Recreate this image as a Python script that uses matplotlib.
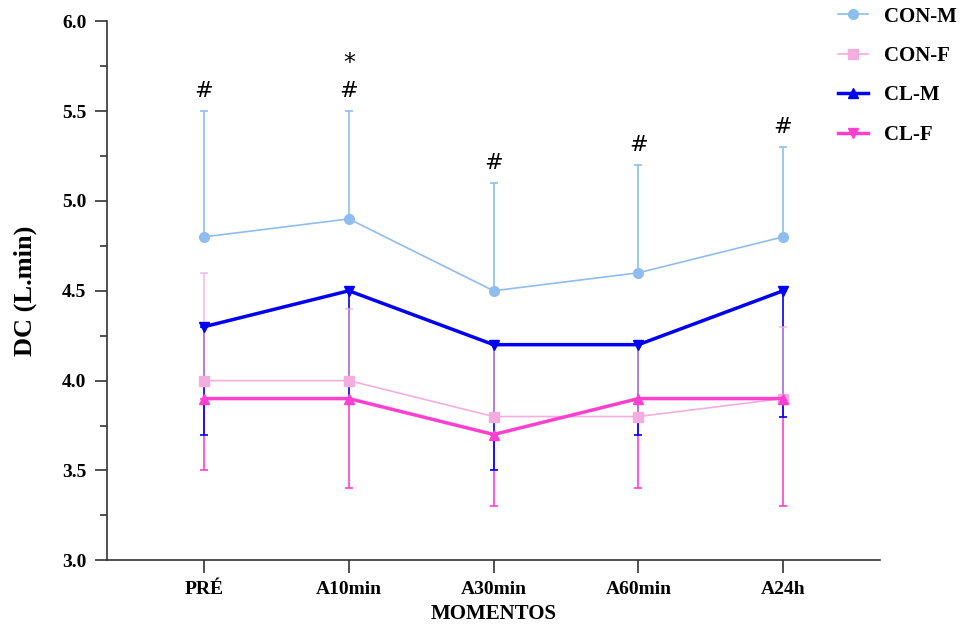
import numpy as np
import matplotlib.pyplot as plt
from matplotlib.lines import Line2D

momentos = ['PRÉ', 'A10min', 'A30min', 'A60min', 'A24h']

con_m = [4.8, 4.9, 4.5, 4.6, 4.8]
con_m_sup = [5.5, 5.5, 5.1, 5.2, 5.3]
con_f = [4.0, 4.0, 3.8, 3.8, 3.9]
con_f_sup = [4.6, 4.4, 4.2, 4.2, 4.3]
cl_m = [4.3, 4.5, 4.2, 4.2, 4.5]
cl_m_inf = [3.7, 3.9, 3.5, 3.7, 3.8]
cl_f = [3.9, 3.9, 3.7, 3.9, 3.9]
cl_f_inf = [3.5, 3.4, 3.3, 3.4, 3.3]

# marcas de significância acima das barras de CON-M
cerquilha = ['#', '#', '#', '#', '#']
asterisco = ['', '*', '', '', '']

c_con_m = '#8fbdf0'
c_con_f = '#f3addf'
c_cl_m = '#0000f5'
c_cl_f = '#ff3fcf'

x = np.arange(1, len(momentos) + 1)

fig = plt.figure(figsize=(9.65, 6.26), dpi=100)
ax = fig.add_axes([0.111, 0.105, 0.801, 0.861])

serif = 'Liberation Serif'

# barras de erro (apenas um lado, como no original)
ax.errorbar(x, cl_f, yerr=[np.array(cl_f) - np.array(cl_f_inf), np.zeros(5)],
            fmt='none', ecolor=c_cl_f, elinewidth=1.2, capsize=3, capthick=1.2, zorder=2)
ax.errorbar(x, cl_m, yerr=[np.array(cl_m) - np.array(cl_m_inf), np.zeros(5)],
            fmt='none', ecolor=c_cl_m, elinewidth=1.2, capsize=3, capthick=1.2, zorder=2)
ax.errorbar(x, con_f, yerr=[np.zeros(5), np.array(con_f_sup) - np.array(con_f)],
            fmt='none', ecolor=c_con_f, elinewidth=1.2, capsize=3, capthick=1.2, alpha=0.8, zorder=3)
ax.errorbar(x, con_m, yerr=[np.zeros(5), np.array(con_m_sup) - np.array(con_m)],
            fmt='none', ecolor=c_con_m, elinewidth=1.2, capsize=3, capthick=1.2, zorder=3)

# linhas
ax.plot(x, con_m, color=c_con_m, lw=1.2, marker='o', ms=7, zorder=4)
ax.plot(x, con_f, color=c_con_f, lw=1.2, marker='s', ms=7, zorder=4)
ax.plot(x, cl_m, color=c_cl_m, lw=2.5, marker='v', ms=7, zorder=5)
ax.plot(x, cl_f, color=c_cl_f, lw=2.5, marker='^', ms=7, zorder=5)

for xi, sup, c, a in zip(x, con_m_sup, cerquilha, asterisco):
    ax.text(xi, sup + 0.055, c, ha='center', va='bottom', fontsize=16,
            family='DejaVu Sans')
    if a:
        ax.text(xi, sup + 0.2, a, ha='center', va='bottom', fontsize=17,
                family='DejaVu Sans')

ax.set_xlim(0.33, 5.67)
ax.set_ylim(3.0, 6.0)
ax.set_xticks(x)
ax.set_xticklabels(momentos, fontsize=14, fontweight='bold', family=serif)
ax.set_yticks(np.arange(3.0, 6.01, 0.5))
ax.set_yticks(np.arange(3.25, 6.0, 0.5), minor=True)
ax.set_yticklabels([f'{v:.1f}' for v in np.arange(3.0, 6.01, 0.5)],
                   fontsize=14, fontweight='bold', family=serif)
ax.tick_params(axis='both', which='major', direction='out', length=9, width=1.2, color='#333333')
ax.tick_params(axis='y', which='minor', direction='out', length=5, width=1.2, color='#333333')
ax.tick_params(axis='x', pad=6)
ax.tick_params(axis='y', pad=6)

ax.spines['top'].set_visible(False)
ax.spines['right'].set_visible(False)
ax.spines['left'].set_linewidth(1.2)
ax.spines['bottom'].set_linewidth(1.2)
ax.spines['left'].set_color('#333333')
ax.spines['bottom'].set_color('#333333')

ax.set_xlabel('MOMENTOS', fontsize=15, fontweight='bold', family=serif, labelpad=4)
ax.set_ylabel('DC (L.min)', fontsize=19, fontweight='bold', family=serif, labelpad=18)

handles = [
    Line2D([], [], color=c_con_m, lw=1.2, marker='o', ms=7),
    Line2D([], [], color=c_con_f, lw=1.2, marker='s', ms=7),
    Line2D([], [], color=c_cl_m, lw=2.5, marker='^', ms=7),
    Line2D([], [], color=c_cl_f, lw=2.5, marker='v', ms=7),
]
fig.legend(handles, ['CON-M', 'CON-F', 'CL-M', 'CL-F'], loc='upper left',
           bbox_to_anchor=(0.864, 0.996), frameon=False, borderpad=0.2,
           borderaxespad=0, handlelength=1.45, handletextpad=0.75,
           labelspacing=0.93,
           prop={'family': serif, 'weight': 'bold', 'size': 15})

fig.savefig('out.png', dpi=100)
